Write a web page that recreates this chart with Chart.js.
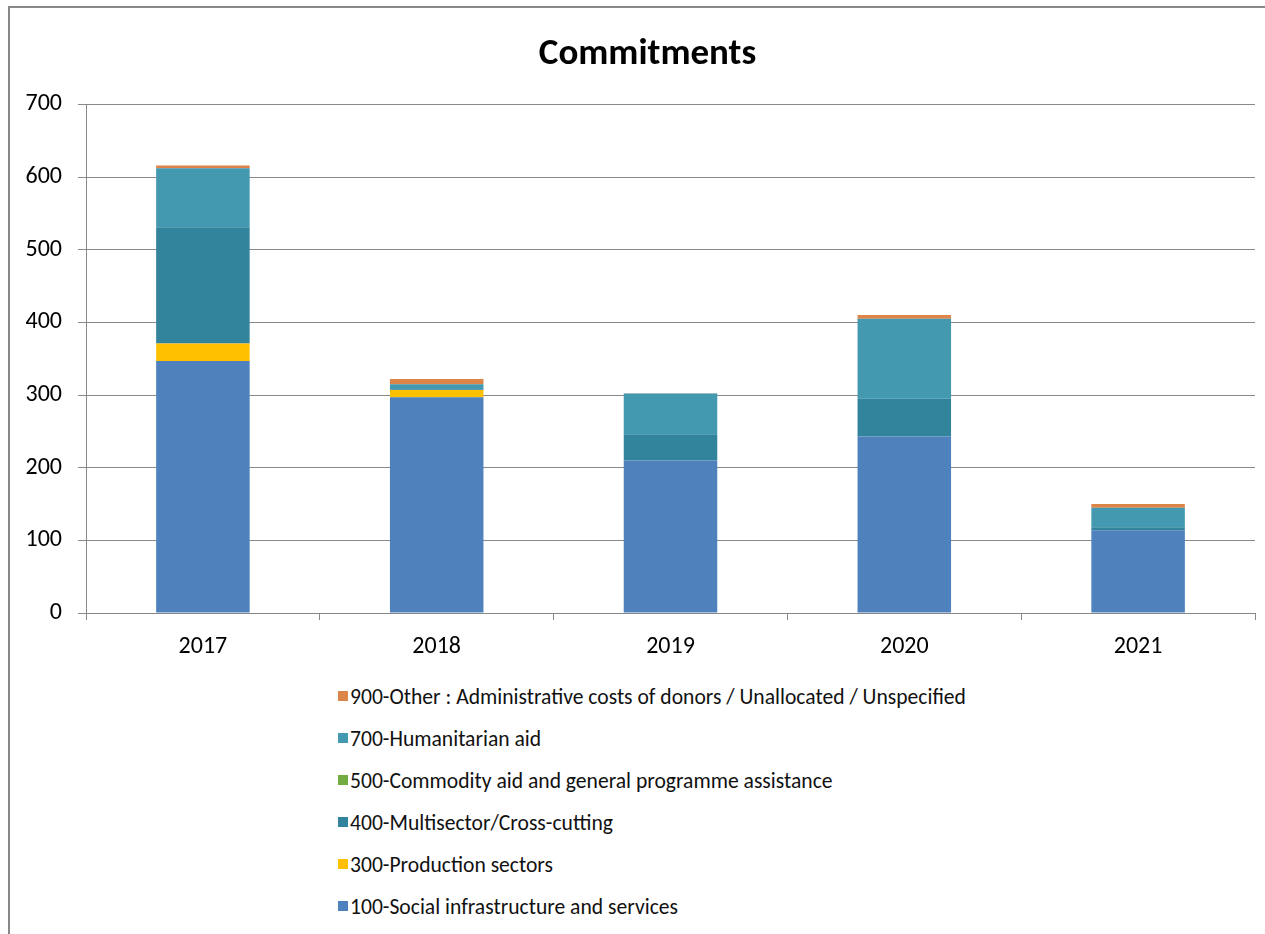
<!DOCTYPE html>
<html lang="en">
<head>
  <meta charset="UTF-8">
  <title>Commitments</title>
  <script src="https://cdn.jsdelivr.net/npm/chart.js"></script>
  <style>
    body { margin: 0; background: #fff; font-family: Calibri, Carlito, Lato, sans-serif; }
    .frame { position: absolute; left: 8px; top: 6px; width: 1300px; height: 1000px; border: 2px solid #888; box-sizing: border-box; }
    .wrap { position: absolute; left: 0; top: 0; width: 1265px; height: 670px; }
    #legend { position: absolute; left: 338px; top: 675px; margin: 0; padding: 0; list-style: none; }
    #legend li { height: 42px; display: flex; align-items: center; font-size: 21.6px; color: #111; }
    #legend span.box { width: 10px; height: 10px; margin-right: 2px; display: inline-block; }
  </style>
</head>
<body>
<div class="frame"></div>
<div class="wrap"><canvas id="chart"></canvas></div>
<ul id="legend"></ul>
<script>
// data
const years = ['2017', '2018', '2019', '2020', '2021'];
const social = [347, 297, 210, 243, 114];
const production = [24, 10, 0, 0, 0];
const multisector = [160, 1, 36, 52, 4];
const commodity = [0, 0, 0, 0, 0];
const humanitarian = [81, 7, 56, 110, 27];
const other = [4, 7, 0.5, 5, 5];
const yTicks = [0, 100, 200, 300, 400, 500, 600, 700];

const series = [
  { label: '100-Social infrastructure and services', data: social, color: '#4f81bd' },
  { label: '300-Production sectors', data: production, color: '#ffc000' },
  { label: '400-Multisector/Cross-cutting', data: multisector, color: '#31849b' },
  { label: '500-Commodity aid and general programme assistance', data: commodity, color: '#72ab3f' },
  { label: '700-Humanitarian aid', data: humanitarian, color: '#4399b0' },
  { label: '900-Other : Administrative costs of donors / Unallocated / Unspecified', data: other, color: '#dd8448' }
];

const font = 'Calibri, Carlito, Lato, sans-serif';

// the original title sits a bit right of the canvas centre
const titleShift = {
  id: 'titleShift',
  afterLayout(chart) {
    if (chart.titleBlock) { chart.titleBlock.left += 20; chart.titleBlock.right += 20; }
  }
};

let chart = new Chart(document.getElementById('chart'), {
  type: 'bar',
  data: {
    labels: years,
    datasets: series.map(s => ({
      label: s.label, data: s.data, backgroundColor: s.color,
      borderWidth: 0, barPercentage: 0.4, categoryPercentage: 1
    }))
  },
  options: {
    responsive: true,
    maintainAspectRatio: false,
    animation: false,
    layout: { padding: { left: 0, right: 10, top: 0, bottom: 0 } },
    plugins: {
      legend: { display: false },
      tooltip: { enabled: false },
      title: {
        display: true, text: 'Commitments', color: '#000',
        font: { family: font, size: 37, weight: 'bold' },
        padding: { top: 33, bottom: 27 }
      }
    },
    scales: {
      x: {
        stacked: true,
        grid: { display: true, drawOnChartArea: false, drawTicks: true, tickLength: 7, color: '#888', offset: true },
        border: { color: '#888', width: 1 },
        ticks: { color: '#000', font: { family: font, size: 24 }, padding: 13 },
        afterFit: s => { s.height = 57; }
      },
      y: {
        stacked: true,
        min: 0, max: 700,
        afterBuildTicks: s => { s.ticks = yTicks.map(v => ({ value: v })); },
        grid: { color: '#888', tickLength: 8, lineWidth: 1 },
        border: { color: '#888', width: 1 },
        ticks: { color: '#000', font: { family: font, size: 24 }, padding: 16 },
        afterFit: s => { s.width = 86; }
      }
    }
  },
  plugins: [titleShift]
});

// legend in reverse order, one per row like the original
const legend = document.getElementById('legend');
chart.data.datasets.slice().reverse().forEach(ds => {
  const li = document.createElement('li');
  li.innerHTML = `<span class="box" style="background:${ds.backgroundColor}"></span>${ds.label}`;
  legend.appendChild(li);
});
</script>
</body>
</html>
